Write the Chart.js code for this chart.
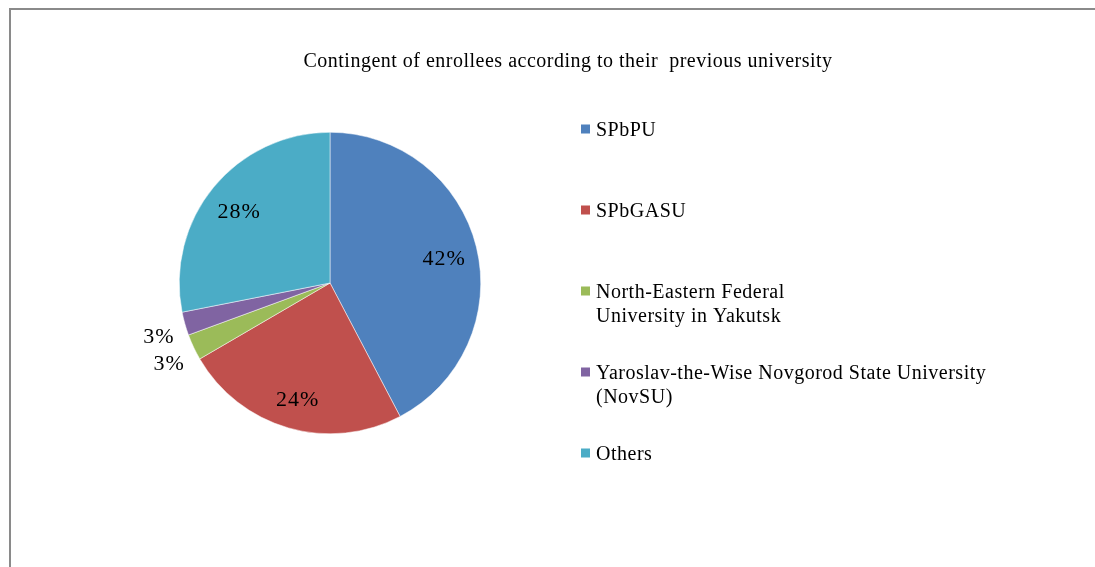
<!DOCTYPE html>
<html>
<head>
<meta charset="utf-8">
<script src="https://cdn.jsdelivr.net/npm/chart.js@4.4.1/dist/chart.umd.min.js"></script>
<style>
  html, body { margin: 0; padding: 0; background: #fff; }
  #wrap { position: relative; width: 1095px; height: 567px; overflow: hidden; }
  #frame { position: absolute; left: 9px; top: 8px; width: 1090px; height: 570px;
           border-top: 2px solid #8a8a8a; border-left: 2px solid #8a8a8a; }
  canvas { position: absolute; left: 0; top: 0; }
</style>
</head>
<body>
<div id="wrap">
  <div id="frame"></div>
  <canvas id="pieChart"></canvas>
</div>
<script>
// data
const categories = [
  "SPbPU",
  "SPbGASU",
  ["North-Eastern Federal", "University in Yakutsk"],
  ["Yaroslav-the-Wise Novgorod State University", "(NovSU)"],
  "Others"
];
const shares = [42.3, 24.3, 2.8, 2.5, 28.1];
const shareLabels = ["42%", "24%", "3%", "3%", "28%"];
const colors = ["#4F81BD", "#C0504D", "#9BBB59", "#8064A2", "#4BACC6"];

const chartTitle = "Contingent of enrollees according to their  previous university";
const serif = "'Liberation Serif', 'Times New Roman', serif";

const decorations = {
  id: "decorations",
  afterDatasetsDraw(chart) {
    const ctx = chart.ctx;
    const meta = chart.getDatasetMeta(0);
    ctx.save();
    ctx.fillStyle = "#000";
    ctx.textBaseline = "middle";

    // slice labels (small slices get theirs outside)
    ctx.font = "22px " + serif;
    ctx.letterSpacing = "1px";
    ctx.textAlign = "center";
    meta.data.forEach((arc, i) => {
      const p = arc.getProps(["x", "y", "startAngle", "endAngle", "outerRadius"], true);
      const mid = (p.startAngle + p.endAngle) / 2;
      const outside = shares[i] < 5;
      const r = outside ? p.outerRadius + 27 : p.outerRadius * 0.78;
      ctx.fillText(shareLabels[i], p.x + Math.cos(mid) * r, p.y + Math.sin(mid) * r + (outside ? 6 : 4));
    });

    // title
    ctx.font = "20px " + serif;
    ctx.letterSpacing = "0.5px";
    ctx.fillText(chartTitle, 568, 62);

    // legend
    ctx.textAlign = "left";
    ctx.font = "20px " + serif;
    categories.forEach((c, i) => {
      const y = 129 + i * 81;
      ctx.fillStyle = colors[i];
      ctx.fillRect(581, y - 4.5, 9, 9);
      ctx.fillStyle = "#000";
      const lines = Array.isArray(c) ? c : [c];
      lines.forEach((t, j) => ctx.fillText(t, 596, y + 2 + j * 24));
    });
    ctx.restore();
  }
};

new Chart(document.getElementById("pieChart").getContext("2d"), {
  type: "pie",
  data: {
    labels: categories,
    datasets: [{
      data: shares,
      backgroundColor: colors,
      borderColor: "#ffffff",
      borderWidth: 0.5
    }]
  },
  options: {
    responsive: true,
    maintainAspectRatio: false,
    animation: false,
    layout: { padding: { left: 179, right: 614, top: 132, bottom: 133 } },
    plugins: {
      legend: { display: false },
      title: { display: false },
      tooltip: { enabled: false }
    }
  },
  plugins: [decorations]
});
</script>
</body>
</html>
